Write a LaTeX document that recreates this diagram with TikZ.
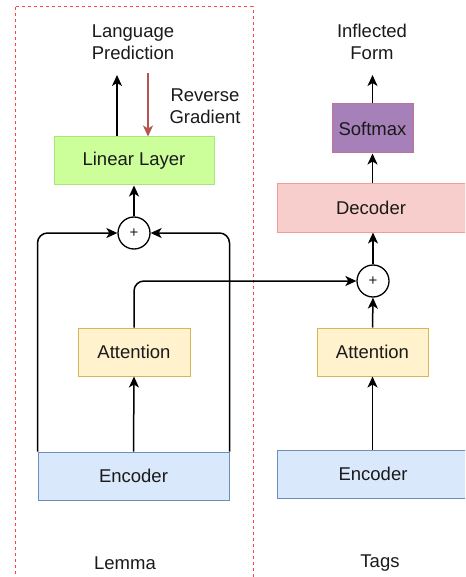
\documentclass[tikz,border=0pt]{standalone}
\usepackage{fontspec}
\setmainfont{Liberation Sans}
\usetikzlibrary{arrows.meta}
\definecolor{txt}{HTML}{1A1A1A}
\definecolor{grnfill}{HTML}{CCFF99}
\definecolor{grnline}{HTML}{A6E67A}
\definecolor{yelfill}{HTML}{FFF2CC}
\definecolor{yelline}{HTML}{D6B656}
\definecolor{blufill}{HTML}{DAE8FC}
\definecolor{bluline}{HTML}{6C8EBF}
\definecolor{redfill}{HTML}{F8CECC}
\definecolor{redline}{HTML}{F19C99}
\definecolor{purfill}{HTML}{A680B8}
\definecolor{purline}{HTML}{C0709A}
\definecolor{gradred}{HTML}{B85450}
\definecolor{dashred}{HTML}{FF4444}
\begin{document}
\begin{tikzpicture}[x=1pt,y=-1pt,
  every node/.style={font=\fontsize{18.5}{22}\selectfont, text=txt},
  box/.style={draw, line width=1pt, inner sep=0pt, align=center},
  lbl/.style={align=center, inner sep=0pt},
  plus/.style={draw, circle, line width=1.3pt, minimum size=32pt, inner sep=0pt, font=\fontsize{15}{15}\selectfont},
  arr/.style={line width=1.5pt, -{Stealth[length=11pt,width=10pt,inset=3pt]}},
  ln/.style={line width=1.5pt}]
\clip (0,0) rectangle (465,577);
\fill[white] (0,0) rectangle (465,577);
% dashed group
\draw[dashred, line width=1pt, dash pattern=on 3pt off 3pt] (15,7) rectangle (253,620);
% left column
\node[box, fill=grnfill, draw=grnline, minimum width=160pt, minimum height=48pt] (lin) at (134,161) {Linear Layer};
\node[box, fill=yelfill, draw=yelline, minimum width=112pt, minimum height=48pt] (latt) at (134,352) {Attention};
\node[box, fill=blufill, draw=bluline, minimum width=191pt, minimum height=48pt] (lenc) at (133.5,476) {Encoder};
\node[plus] (plusl) at (134,233) {+};
\node[lbl] (langpred) at (133,42) {Language\\Prediction};
\node[lbl] (revgrad) at (205,106) {Reverse\\Gradient};
\node[lbl] (lemma) at (125,563) {Lemma};
% right column
\node[box, fill=purfill, draw=purline, minimum width=81pt, minimum height=49pt] (soft) at (372.5,128.5) {Softmax};
\node[box, fill=redfill, draw=redline, minimum width=188pt, minimum height=48pt] (dec) at (371,208) {Decoder};
\node[box, fill=yelfill, draw=yelline, minimum width=111pt, minimum height=48pt] (ratt) at (372.5,352) {Attention};
\node[box, fill=blufill, draw=bluline, minimum width=192pt, minimum height=48pt] (renc) at (373,474) {Encoder};
\node[plus] (plusr) at (373,281) {+};
\node[lbl] (inflform) at (372,42) {Inflected\\Form};
\node[lbl] (tags) at (380,563) {Tags};
% connectors left
\coordinate (lpTip) at (117,75);
\coordinate (rgStart) at (148,73);
\draw[arr] (lin.north -| lpTip) -- (lpTip);
\draw[arr, gradred] (rgStart) -- (lin.north -| rgStart);
\draw[arr] (plusl.north) -- (lin.south);
\draw[arr, rounded corners=10pt] (lenc.north west) |- (plusl.west);
\draw[arr, rounded corners=10pt] (lenc.north east) |- (plusl.east);
\draw[arr] (lenc.north) -- (latt.south);
\draw[arr, rounded corners=10pt] (latt.north) |- (plusr.west);
% connectors right
\coordinate (ifTip) at (372.5,75);
\draw[arr] (renc.north -| ratt.south) -- (ratt.south);
\draw[arr] (ratt.north) -- (plusr.south);
\draw[arr] (plusr.north) -- (plusr.north |- dec.south);
\draw[arr] (soft.south |- dec.north) -- (soft.south);
\draw[arr] (soft.north) -- (ifTip);
\end{tikzpicture}
\end{document}
